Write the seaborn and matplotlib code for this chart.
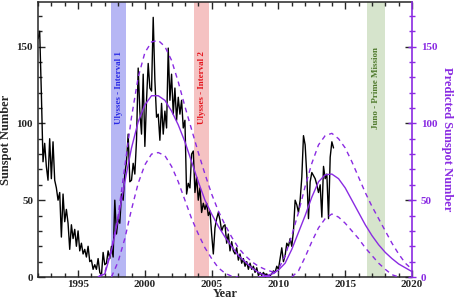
import numpy as np
import pandas as pd
import seaborn as sns
import matplotlib
matplotlib.use("Agg")
from matplotlib import pyplot as plt
from matplotlib.ticker import MultipleLocator

sns.set_style("ticks")
plt.rcParams['font.family'] = ['Liberation Serif', 'DejaVu Serif']
plt.rcParams['font.weight'] = 'bold'

# observed monthly-ish sunspot number, sampled every 1/8 year from 1992.0
ssn_start = 1992.0
ssn = [155, 160, 120, 75, 87, 72, 63, 90,
       64, 88, 63, 58, 50, 55, 26, 54,
       36, 44, 35, 18, 34, 25, 31, 20,
       30, 17, 22, 15, 18, 13, 20, 10,
       11, 5, 8, 5, 12, 3, 1, 16,
       8, 9, 17, 12, 20,
       13, 50, 28,
       38, 35, 54, 50, 67, 75, 93, 62,
       63, 74, 67, 89, 136, 108, 93, 132,
       85, 115, 139, 123, 121, 169, 128, 104,
       106, 89, 113, 93, 108, 97, 149, 115,
       132, 106, 123, 102, 117, 106, 115, 97,
       102, 54, 61, 58, 80, 82,
       55, 65,
       50, 58, 42, 48, 44, 48, 40, 43,
       28, 15, 32, 38, 42, 37, 30, 33,
       34, 22, 28, 17, 23, 17, 15, 19,
       11, 15, 9, 12, 7, 10, 5, 9,
       5, 7, 3, 6, 1, 3, 1, 3,
       1, 2, 0, 1,
       2, 4, 3, 7,
       5, 12, 19, 10, 14, 22, 20, 25,
       20, 30, 50, 47, 42, 50, 65, 92,
       86, 66, 38, 62, 68, 66, 64, 60,
       55, 60, 39, 72, 64, 67, 38, 78,
       88, 84]
ssn_year = ssn_start + np.arange(len(ssn)) / 8

# predicted cycle 23 (mean, upper, lower)
c23_mid_year = np.arange(1996.5, 2009.51, 0.5)
c23_mid = [0, 2, 17, 38, 62, 84, 101, 112, 118, 118, 115, 108, 99, 88, 75,
           62, 50, 41, 33, 26, 20, 14, 10, 6, 3, 1, 0]
c23_up_year = np.arange(1996.5, 2010.01, 0.5)
c23_up = [0, 3, 18, 40, 72, 104, 130, 146, 153, 154, 150, 141, 127, 111, 96,
          81, 67, 54, 43, 34, 26, 19, 14, 10, 7, 5, 3.5, 2.5]
c23_lo_year = np.arange(1997.5, 2007.01, 0.5)
c23_lo = [0, 10, 25, 44, 61, 73, 80, 81, 79, 72, 62, 50, 38, 28, 19, 12, 6,
          2.5, 0.5, 0]

# predicted cycle 24
c24_mid_year = np.arange(2008.5, 2020.01, 0.5)
c24_mid = [0, 0.5, 2, 4.5, 9, 18, 29, 40, 52, 62, 66.5, 67, 64, 58, 50, 42,
           34, 27, 21, 16, 12, 8.5, 6, 3.5]
c24_up_year = np.arange(2009.0, 2020.01, 0.5)
c24_up = [0, 1, 5, 14, 27, 42, 59, 74, 86, 92, 93.5, 90, 84, 75, 65, 55, 46,
          38, 30, 22, 15, 9, 5]
c24_lo_year = np.arange(2011.0, 2019.01, 0.5)
c24_lo = [0, 4, 13, 23, 32, 38, 41, 39, 35, 30, 25, 19, 14, 9, 5, 1.5, 0]

bands = [("Ulysses - Interval 1", 1997.5, 1998.6, '#b6b6f4', '#2a2ae6'),
         ("Ulysses - Interval 2", 2003.7, 2004.8, '#f5c2c2', '#e4141c'),
         ("Juno - Prime Mission", 2016.6, 2018.0, '#d6e4cc', '#4f7a2c')]

purple = '#8a2be2'

fig = plt.figure(figsize=(4.54, 3.01), dpi=100)
ax = fig.add_axes([0.0837, 0.0797, 0.8238, 0.9137])
ax2 = ax.twinx()

for label, x0, x1, fc, tc in bands:
    ax.axvspan(x0, x1, color=fc, lw=0, zorder=0)
    ax.text((x0 + x1) / 2, 123, label, rotation=90, ha='center', va='center',
            color=tc, fontsize=6.5, fontweight='bold')

sns.lineplot(x=ssn_year, y=ssn, ax=ax, color='black', linewidth=1.0)

for yr, vals, dashed in [(c23_mid_year, c23_mid, False), (c23_up_year, c23_up, True),
                         (c23_lo_year, c23_lo, True), (c24_mid_year, c24_mid, False),
                         (c24_up_year, c24_up, True), (c24_lo_year, c24_lo, True)]:
    ls = (0, (3.5, 3)) if dashed else '-'
    sns.lineplot(x=yr, y=vals, ax=ax2, color=purple, linewidth=1.0, linestyle=ls)

for a in (ax, ax2):
    a.set_xlim(1992.0, 2020.0)
    a.set_ylim(0, 179)
    a.yaxis.set_major_locator(MultipleLocator(50))
    a.yaxis.set_minor_locator(MultipleLocator(10))

ax.xaxis.set_major_locator(MultipleLocator(5))
ax.xaxis.set_minor_locator(MultipleLocator(1))
ax.tick_params(which='both', direction='in', top=True, right=False,
               labelsize=8, width=1)
ax.tick_params(which='major', length=5)
ax.tick_params(which='minor', length=3)
ax.tick_params(axis='x', which='major', pad=2.5)
ax.tick_params(axis='y', which='major', right=True)
ax.spines['right'].set_visible(False)
for s in ('left', 'top', 'bottom'):
    ax.spines[s].set_linewidth(1.1)

ax2.spines['right'].set_color(purple)
ax2.spines['right'].set_linewidth(1.2)
for s in ('left', 'top', 'bottom'):
    ax2.spines[s].set_visible(False)
ax2.tick_params(axis='y', which='both', direction='inout', colors=purple,
                labelsize=8, width=1)
ax2.tick_params(axis='y', which='major', length=6)
ax2.tick_params(axis='y', which='minor', length=5)

for lab in ax.get_xticklabels():
    lab.set_fontweight('bold')
for lab in ax.get_yticklabels() + ax2.get_yticklabels():
    lab.set_fontweight('bold')
    lab.set_verticalalignment('center_baseline')

ax.set_xlabel('Year', fontsize=9, fontweight='bold', labelpad=-1)
ax.set_ylabel('Sunspot Number', fontsize=9, fontweight='bold', labelpad=3)
ax2.set_ylabel('Predicted Sunspot Number', fontsize=9, fontweight='bold',
               color=purple, rotation=270, labelpad=11)

fig.savefig('out.png', dpi=100)
